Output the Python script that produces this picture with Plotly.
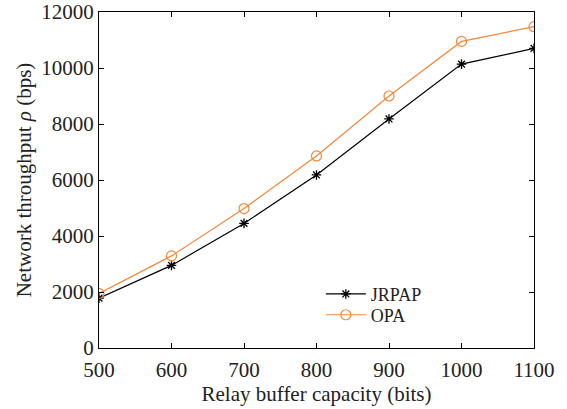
import plotly.graph_objects as go

buffer_capacity = [500, 600, 700, 800, 900, 1000, 1100]
jrpap = [1780, 2950, 4450, 6180, 8180, 10140, 10700]
opa = [1950, 3290, 4980, 6860, 9000, 10950, 11475]
x_ticks = [500, 600, 700, 800, 900, 1000, 1100]
y_ticks = [0, 2000, 4000, 6000, 8000, 10000, 12000]

orange = "#F5873A"
font = "Liberation Serif, Times New Roman, serif"
FS = 21

fig = go.Figure()
fig.add_trace(go.Scatter(
    x=buffer_capacity, y=jrpap, name="JRPAP", mode="lines+markers",
    line=dict(color="black", width=1.2),
    marker=dict(symbol="asterisk-open", size=8, color="black",
                line=dict(color="black", width=1.3)),
    legend="legend",
))
fig.add_trace(go.Scatter(
    x=buffer_capacity, y=opa, name="OPA", mode="lines+markers",
    line=dict(color=orange, width=1.2),
    marker=dict(symbol="circle-open", size=10, color=orange,
                line=dict(color=orange, width=1.2)),
    legend="legend2",
))

axis_common = dict(
    showgrid=False, zeroline=False, showline=True, linecolor="black",
    linewidth=1.3, mirror="ticks", ticks="inside", ticklen=5,
    tickcolor="black", tickwidth=1, automargin=False,
    tickfont=dict(family=font, size=FS, color="#222"),
)
fig.update_xaxes(range=[500, 1100], tickvals=x_ticks,
                 ticktext=[str(v) for v in x_ticks],
                 ticklabelstandoff=3,
                 title=dict(text="Relay buffer capacity (bits)",
                            font=dict(family=font, size=FS, color="#222"),
                            standoff=0),
                 **axis_common)
fig.update_yaxes(range=[0, 12000], tickvals=y_ticks,
                 ticktext=[str(v) for v in y_ticks],
                 title=dict(text="Network throughput <i>ρ</i> (bps)",
                            font=dict(family=font, size=FS, color="#222"),
                            standoff=3),
                 **axis_common)

leg_common = dict(xanchor="left", yanchor="middle", bgcolor="rgba(0,0,0,0)",
                  font=dict(family=font, size=18, color="#222"),
                  itemwidth=40)
fig.update_layout(
    width=567, height=409,
    margin=dict(l=99, r=33, t=12, b=61),
    paper_bgcolor="white", plot_bgcolor="white",
    showlegend=True,
    legend=dict(x=0.51, y=0.16, **leg_common),
    legend2=dict(x=0.51, y=0.098, **leg_common),
)

fig.write_html("out.html")
